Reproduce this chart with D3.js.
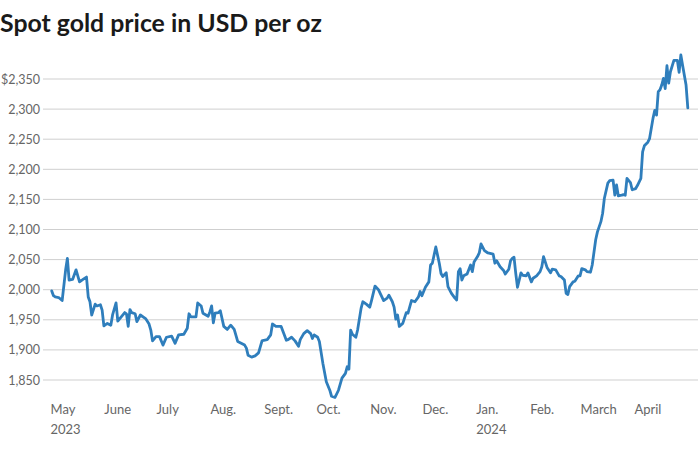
<!DOCTYPE html>
<html>
<head>
<meta charset="utf-8">
<script src="https://cdn.jsdelivr.net/npm/d3@7"></script>
<style>
  html, body { margin: 0; padding: 0; background: #fff; }
  svg { display: block; }
</style>
</head>
<body>
<svg id="chart" width="700" height="450"></svg>
<script>
const title = "Spot gold price in USD per oz";

const dates = [
  "2023-05-02","2023-05-03","2023-05-04","2023-05-06","2023-05-08","2023-05-10","2023-05-11","2023-05-12","2023-05-14","2023-05-16",
  "2023-05-18","2023-05-20","2023-05-22","2023-05-23","2023-05-24","2023-05-25","2023-05-27","2023-05-28","2023-05-30","2023-05-31",
  "2023-06-01","2023-06-03","2023-06-05","2023-06-06","2023-06-08","2023-06-09","2023-06-11","2023-06-13","2023-06-14","2023-06-15",
  "2023-06-16","2023-06-17","2023-06-19","2023-06-20","2023-06-22","2023-06-25","2023-06-27","2023-06-28","2023-06-29","2023-07-01",
  "2023-07-03","2023-07-05","2023-07-07","2023-07-10","2023-07-12","2023-07-14","2023-07-17","2023-07-19","2023-07-20","2023-07-21",
  "2023-07-24","2023-07-25","2023-07-27","2023-07-28","2023-07-31","2023-08-01","2023-08-02","2023-08-03","2023-08-04","2023-08-06",
  "2023-08-07","2023-08-09","2023-08-11","2023-08-13","2023-08-15","2023-08-17","2023-08-19","2023-08-21","2023-08-22","2023-08-23",
  "2023-08-25","2023-08-27","2023-08-29","2023-08-31","2023-09-01","2023-09-03","2023-09-05","2023-09-06","2023-09-08","2023-09-11",
  "2023-09-14","2023-09-15","2023-09-17","2023-09-19","2023-09-21","2023-09-22","2023-09-24","2023-09-26","2023-09-28","2023-09-29",
  "2023-09-30","2023-10-02","2023-10-03","2023-10-05","2023-10-07","2023-10-09","2023-10-10","2023-10-12","2023-10-14","2023-10-16",
  "2023-10-18","2023-10-19","2023-10-20","2023-10-21","2023-10-22","2023-10-24","2023-10-25","2023-10-27","2023-10-28","2023-10-30",
  "2023-11-01","2023-11-02","2023-11-04","2023-11-06","2023-11-07","2023-11-09","2023-11-11","2023-11-12","2023-11-14","2023-11-15",
  "2023-11-16","2023-11-17","2023-11-18","2023-11-20","2023-11-22","2023-11-23","2023-11-25","2023-11-27","2023-11-29","2023-11-30",
  "2023-12-01","2023-12-03","2023-12-05","2023-12-06","2023-12-07","2023-12-09","2023-12-11","2023-12-12","2023-12-13","2023-12-15",
  "2023-12-16","2023-12-18","2023-12-20","2023-12-21","2023-12-22","2023-12-23","2023-12-24","2023-12-25","2023-12-27","2023-12-29",
  "2023-12-30","2023-12-31","2024-01-02","2024-01-03","2024-01-04","2024-01-06","2024-01-08","2024-01-11","2024-01-12","2024-01-13",
  "2024-01-15","2024-01-17","2024-01-18","2024-01-20","2024-01-21","2024-01-22","2024-01-23","2024-01-24","2024-01-25","2024-01-27",
  "2024-01-28","2024-01-30","2024-01-31","2024-02-02","2024-02-03","2024-02-05","2024-02-07","2024-02-08","2024-02-09","2024-02-11",
  "2024-02-13","2024-02-14","2024-02-16","2024-02-18","2024-02-19","2024-02-21","2024-02-22","2024-02-23","2024-02-24","2024-02-26",
  "2024-02-27","2024-02-29","2024-03-01","2024-03-02","2024-03-04","2024-03-05","2024-03-07","2024-03-08","2024-03-10","2024-03-11",
  "2024-03-13","2024-03-14","2024-03-15","2024-03-17","2024-03-18","2024-03-20","2024-03-21","2024-03-22","2024-03-23","2024-03-25",
  "2024-03-26","2024-03-27","2024-03-28","2024-03-30","2024-03-31","2024-04-02","2024-04-03","2024-04-05","2024-04-06","2024-04-07",
  "2024-04-09","2024-04-10","2024-04-12","2024-04-13","2024-04-14","2024-04-15","2024-04-16","2024-04-17","2024-04-18","2024-04-19",
  "2024-04-20","2024-04-21","2024-04-22","2024-04-24","2024-04-26","2024-04-27","2024-04-28","2024-04-29","2024-05-01","2024-05-02"
];

const prices = [
  1998,1990,1988,1987,1982,2033,2052,2016,2017,2033,
  2013,2017,2021,1988,1980,1958,1976,1973,1975,1966,
  1940,1944,1941,1958,1978,1948,1955,1962,1960,1939,
  1967,1962,1960,1947,1958,1952,1943,1933,1915,1922,
  1922,1908,1921,1923,1911,1925,1926,1936,1960,1955,
  1955,1978,1973,1961,1956,1963,1973,1945,1961,1962,
  1965,1939,1934,1941,1934,1914,1911,1908,1903,1891,
  1888,1890,1895,1915,1916,1917,1925,1943,1939,1939,
  1916,1917,1921,1915,1906,1917,1927,1932,1927,1919,
  1925,1921,1914,1878,1847,1833,1823,1821,1833,1853,
  1861,1872,1868,1933,1926,1921,1933,1969,1980,1976,
  1971,1982,2006,2000,1994,1982,1986,1991,1980,1971,
  1951,1958,1939,1944,1962,1961,1982,1980,1988,1997,
  1990,2004,2013,2041,2044,2071,2044,2027,2022,2028,
  2005,1994,1986,1983,2030,2035,2016,2023,2026,2041,
  2030,2046,2055,2061,2076,2065,2061,2059,2044,2048,
  2038,2032,2026,2034,2048,2052,2054,2027,2004,2028,
  2024,2023,2028,2013,2019,2023,2030,2038,2055,2037,
  2028,2034,2033,2023,2022,2016,1994,1992,2005,2013,
  2014,2023,2023,2035,2033,2030,2029,2041,2083,2096,
  2113,2127,2152,2177,2181,2182,2157,2174,2156,2157,
  2158,2157,2185,2178,2166,2168,2173,2185,2229,2239,
  2245,2251,2285,2298,2290,2329,2332,2340,2351,2334,
  2372,2343,2362,2381,2381,2361,2390,2373,2340,2302
];

const yTicks = [1850, 1900, 1950, 2000, 2050, 2100, 2150, 2200, 2250, 2300, 2350];
const monthLabels = ["May", "June", "July", "Aug.", "Sept.", "Oct.", "Nov.", "Dec.", "Jan.", "Feb.", "March", "April"];
const yearLabels = {"May": "2023", "Jan.": "2024"};

const parse = d3.timeParse("%Y-%m-%d");
const data = dates.map((d, i) => ({date: parse(d), value: prices[i]}));

const svg = d3.select("#chart");
const FONT = "Lato, 'Source Sans Pro', sans-serif";

const x = d3.scaleTime()
  .domain([new Date(2023, 4, 1), new Date(2024, 4, 2)])
  .range([50, 687.8]);
const y = d3.scaleLinear()
  .domain([1850, 2350])
  .range([380, 79]);

// title
const t = svg.append("text")
  .attr("x", 0).attr("y", 32)
  .attr("font-family", FONT)
  .attr("font-weight", 700)
  .attr("font-size", 23)
  .attr("fill", "#1a1a1a")
  .text(title);
const tw = t.node().getComputedTextLength();
t.attr("font-size", 23 * 322 / tw);

// gridlines
svg.append("g").selectAll("line")
  .data(yTicks).join("line")
  .attr("x1", 43).attr("x2", 698)
  .attr("y1", d => y(d)).attr("y2", d => y(d))
  .attr("stroke", "#cfcfcf").attr("stroke-width", 1);

// y axis labels
const yAxis = d3.axisLeft(y)
  .tickValues(yTicks)
  .tickSize(0)
  .tickPadding(0)
  .tickFormat((d, i) => (d === 2350 ? "$" : "") + d3.format(",")(d));
const gy = svg.append("g").attr("transform", "translate(40,0)").call(yAxis);
gy.select(".domain").remove();
gy.selectAll("text")
  .attr("font-family", FONT)
  .attr("font-size", 12.5)
  .attr("fill", "#666");

// x axis labels
const months = d3.timeMonth.range(new Date(2023, 4, 1), new Date(2024, 4, 1));
const xAxis = d3.axisBottom(x)
  .tickValues(months)
  .tickSize(0)
  .tickPadding(0)
  .tickFormat((d, i) => monthLabels[i]);
const gx = svg.append("g").attr("transform", "translate(0,405)").call(xAxis);
gx.select(".domain").remove();
gx.selectAll("text")
  .attr("text-anchor", "start")
  .attr("font-family", FONT)
  .attr("font-size", 13)
  .attr("fill", "#666")
  .each(function(d, i) {
    const lab = monthLabels[i];
    if (yearLabels[lab]) {
      d3.select(this).append("tspan")
        .attr("x", 0).attr("dy", "1.5em")
        .text(yearLabels[lab]);
    }
  });

// line
const line = d3.line()
  .x(d => x(d.date))
  .y(d => y(d.value));
svg.append("path")
  .datum(data)
  .attr("fill", "none")
  .attr("stroke", "#2f7ebc")
  .attr("stroke-width", 2.8)
  .attr("stroke-linejoin", "round")
  .attr("stroke-linecap", "round")
  .attr("d", line);
</script>
</body>
</html>
